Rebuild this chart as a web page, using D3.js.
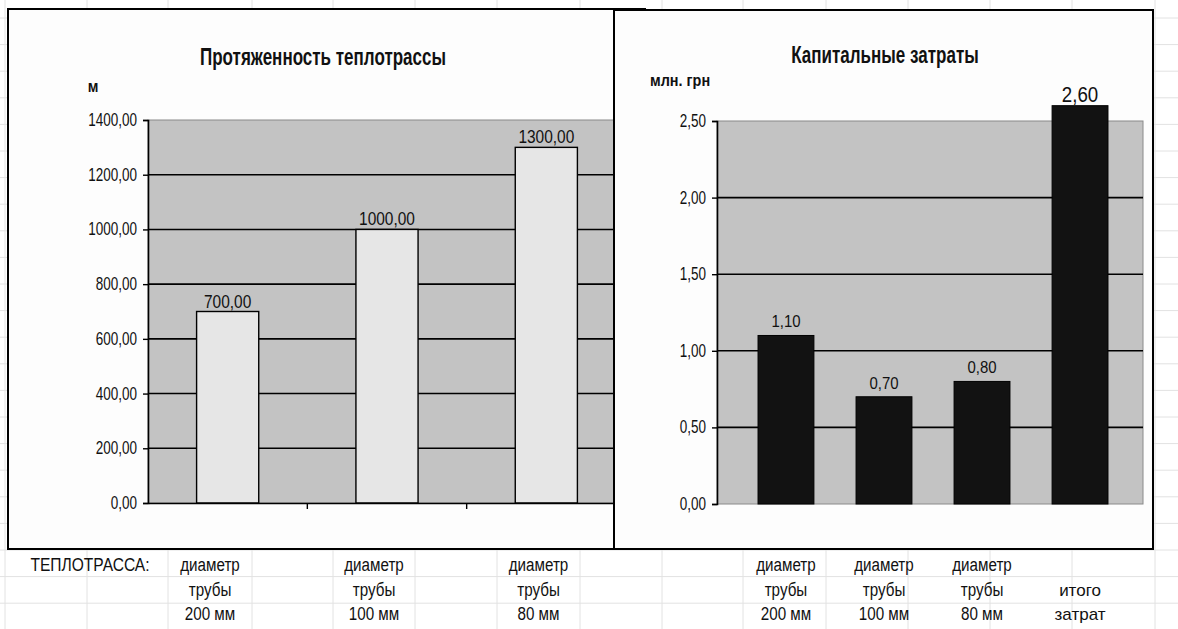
<!DOCTYPE html>
<html><head><meta charset="utf-8">
<script src="https://cdn.jsdelivr.net/npm/d3@7"></script>
<style>
html,body{margin:0;padding:0;background:#fff;}
svg{display:block;}
</style></head>
<body>
<svg id="c" width="1178" height="629"></svg>
<script>
// ---------- data ----------
const lenTitle = "Протяженность теплотрассы";
const lenUnit = "м";
const lenCategories = ["диаметр трубы 200 мм", "диаметр трубы 100 мм", "диаметр трубы 80 мм"];
const lenValues = [700, 1000, 1300];
const lenTicks = [0, 200, 400, 600, 800, 1000, 1200, 1400];

const costTitle = "Капитальные затраты";
const costUnit = "млн. грн";
const costCategories = ["диаметр трубы 200 мм", "диаметр трубы 100 мм", "диаметр трубы 80 мм", "итого затрат"];
const costValues = [1.10, 0.70, 0.80, 2.60];
const costTicks = [0, 0.5, 1.0, 1.5, 2.0, 2.5];

const tableHeader = "ТЕПЛОТРАССА:";
const leftTableCols = [["диаметр", "трубы", "200 мм"], ["диаметр", "трубы", "100 мм"], ["диаметр", "трубы", "80 мм"]];
const rightTableCols = [["диаметр", "трубы", "200 мм"], ["диаметр", "трубы", "100 мм"], ["диаметр", "трубы", "80 мм"], ["", "итого", "затрат"]];

// ---------- font ----------
const NF = '"Liberation Sans", Arial, sans-serif';
const fmt = d => d3.format(".2f")(d).replace(".", ",");

const svg = d3.select("#c");
function ntext(g, x, y, str, opt={}){
  const sx = opt.sx == null ? 0.78 : opt.sx;
  return g.append("text")
    .attr("transform", `translate(${x},${y}) scale(${sx},1)`)
    .attr("font-family", NF)
    .attr("font-size", opt.size || 14)
    .attr("font-weight", opt.bold ? "bold" : "normal")
    .attr("text-anchor", opt.anchor || "middle")
    .attr("fill", opt.fill || "#111")
    .text(str);
}

// ---------- spreadsheet background grid ----------
const bg = svg.append("g");
const colLines = [5, 87, 168, 252, 333, 415, 497, 580, 662, 743, 826, 908, 990, 1072, 1155];
const rowStep = 26.6;
const rowLines = d3.range(0, 40).map(i => 550 - rowStep*20 + i*rowStep).filter(y => y > 0 && y < 629);
bg.selectAll("line.r").data(rowLines).join("line")
  .attr("x1", 0).attr("x2", 1178).attr("y1", d=>d).attr("y2", d=>d)
  .attr("stroke", "#e2e2e2").attr("stroke-width", 1);
bg.selectAll("line.c").data(colLines).join("line")
  .attr("y1", 0).attr("y2", 629).attr("x1", d=>d).attr("x2", d=>d)
  .attr("stroke", "#e2e2e2").attr("stroke-width", 1);

// ---------- LEFT chart ----------
const L = svg.append("g");
L.append("rect").attr("x", 8).attr("y", 9).attr("width", 637).attr("height", 540)
  .attr("fill", "#fdfdfd").attr("stroke", "#000").attr("stroke-width", 2);

const lx = d3.scaleBand().domain(lenCategories).range([148, 626]).paddingInner(0.61).paddingOuter(0.305);
const ly = d3.scaleLinear().domain([0, 1400]).range([503, 120]);

L.append("rect").attr("x", 148).attr("y", ly(1400)).attr("width", 626-148).attr("height", ly(0)-ly(1400))
  .attr("fill", "#c3c3c3").attr("stroke", "#8a8a8a").attr("stroke-width", 1);
L.selectAll("line.g").data(lenTicks.filter(d => d > 0 && d < 1400)).join("line")
  .attr("x1", 148).attr("x2", 626).attr("y1", d=>ly(d)).attr("y2", d=>ly(d))
  .attr("stroke", "#000").attr("stroke-width", 1.6);
L.selectAll("rect.bar").data(lenValues).join("rect")
  .attr("x", (d,i)=>lx(lenCategories[i])).attr("width", lx.bandwidth())
  .attr("y", d=>ly(d)).attr("height", d=>ly(0)-ly(d))
  .attr("fill", "#e6e6e6").attr("stroke", "#000").attr("stroke-width", 1.4);

const lAxis = L.append("g").attr("transform", "translate(148,0)")
  .call(d3.axisLeft(ly).tickValues(lenTicks).tickSize(5).tickFormat(""));
lAxis.select(".domain").attr("stroke", "#000").attr("stroke-width", 1.6);
lAxis.selectAll(".tick line").attr("stroke", "#000").attr("stroke-width", 1.4);
lenTicks.forEach(t => ntext(L, 137, ly(t)+6, fmt(t), {anchor:"end", size:18, sx:0.75}));

const lxAxis = L.append("g").attr("transform", `translate(0,${ly(0)})`)
  .call(d3.axisBottom(lx).tickSize(0).tickFormat(""));
lxAxis.select(".domain").attr("stroke", "#000").attr("stroke-width", 1.6);
L.selectAll("line.xt").data(lenCategories.slice(1)).join("line")
  .attr("x1", d=>lx(d)-lx.step()*lx.paddingOuter()).attr("x2", d=>lx(d)-lx.step()*lx.paddingOuter())
  .attr("y1", ly(0)).attr("y2", ly(0)+6).attr("stroke", "#000").attr("stroke-width", 1.4);

lenValues.forEach((v,i) => ntext(L, lx(lenCategories[i]) + lx.bandwidth()/2, ly(v)-4, fmt(v), {size:18, sx:0.86}));
ntext(L, 323, 65, lenTitle, {bold:true, size:23, sx:0.74});
ntext(L, 93, 92, lenUnit, {bold:true, size:17, sx:0.85});

// ---------- RIGHT chart ----------
const R = svg.append("g");
R.append("rect").attr("x", 614).attr("y", 10).attr("width", 1153-614).attr("height", 549-10)
  .attr("fill", "#fdfdfd").attr("stroke", "#000").attr("stroke-width", 2);

const rx = d3.scaleBand().domain(costCategories).range([720, 1146]).paddingInner(0.43).paddingOuter(0.388);
const ry = d3.scaleLinear().domain([0, 2.5]).range([504, 121]);

R.append("rect").attr("x", 717).attr("y", ry(2.5)).attr("width", 1143-717).attr("height", ry(0)-ry(2.5))
  .attr("fill", "#c3c3c3").attr("stroke", "#8a8a8a").attr("stroke-width", 1);
R.selectAll("line.g").data(costTicks.filter(d => d > 0 && d < 2.5)).join("line")
  .attr("x1", 717).attr("x2", 1143).attr("y1", d=>ry(d)).attr("y2", d=>ry(d))
  .attr("stroke", "#000").attr("stroke-width", 1.6);
R.selectAll("rect.bar").data(costValues).join("rect")
  .attr("x", (d,i)=>rx(costCategories[i])).attr("width", rx.bandwidth())
  .attr("y", d=>ry(d)).attr("height", d=>ry(0)-ry(d))
  .attr("fill", "#121212").attr("stroke", "#000").attr("stroke-width", 1);

const rAxis = R.append("g").attr("transform", "translate(717,0)")
  .call(d3.axisLeft(ry).tickValues(costTicks).tickSize(5).tickFormat(""));
rAxis.select(".domain").attr("stroke", "#000").attr("stroke-width", 1.6);
rAxis.selectAll(".tick line").attr("stroke", "#000").attr("stroke-width", 1.4);
costTicks.forEach(t => ntext(R, 706, ry(t)+6, fmt(t), {anchor:"end", size:18, sx:0.75}));

costValues.forEach((v,i) => {
  const big = i === costValues.length-1;
  ntext(R, rx(costCategories[i]) + rx.bandwidth()/2, ry(v)-(big?4:8), fmt(v), big ? {size:22, sx:0.85} : {size:17, sx:0.88});
});
ntext(R, 885, 63, costTitle, {bold:true, size:23, sx:0.74});
ntext(R, 650, 86, costUnit, {bold:true, size:17, sx:0.85, anchor:"start"});

// ---------- table under charts ----------
const T = svg.append("g");
const rowY = [571, 596, 620];
ntext(T, 90, rowY[0], tableHeader, {size:19, sx:0.82});
const leftCells = [[168, 252], [333, 415], [497, 580]];
leftTableCols.forEach((col, i) => {
  const cx = (leftCells[i][0] + leftCells[i][1]) / 2;
  col.forEach((s, r) => { if (s) ntext(T, cx, rowY[r], s, {size:19, sx:0.8}); });
});
rightTableCols.forEach((col, i) => {
  const cx = rx(costCategories[i]) + rx.bandwidth()/2;
  col.forEach((s, r) => {
    if (!s) return;
    if (i === rightTableCols.length-1) ntext(T, cx, rowY[r], s, {size:17, sx:1});
    else ntext(T, cx, rowY[r], s, {size:19, sx:0.8});
  });
});
</script>
</body></html>
